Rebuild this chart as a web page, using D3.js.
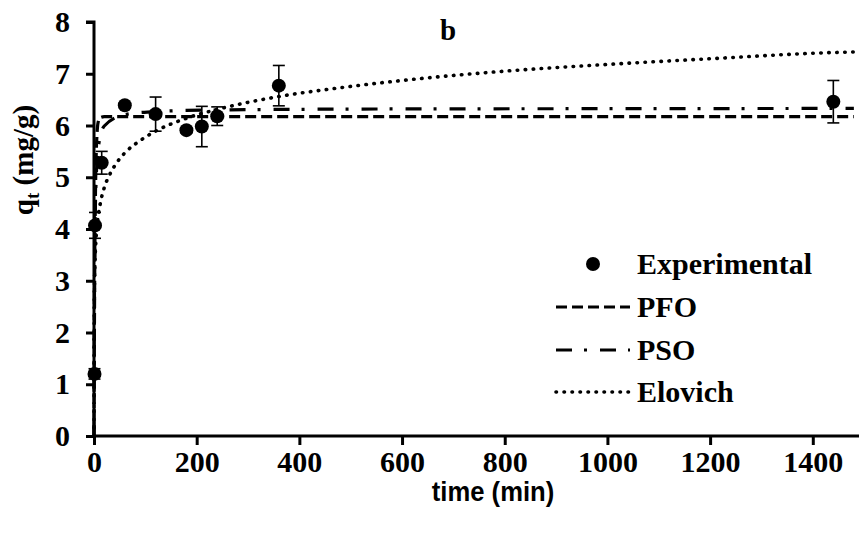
<!DOCTYPE html>
<html>
<head>
<meta charset="utf-8">
<script src="https://cdn.jsdelivr.net/npm/d3@7"></script>
<style>
  body { margin: 0; background: #fff; }
  svg text { font-family: "Liberation Serif", "Times New Roman", serif; font-weight: bold; fill: #000; }
  .xtitle { font-family: "Liberation Sans Narrow", "Arial Narrow", "Liberation Sans", Arial, sans-serif; }
</style>
</head>
<body>
<svg id="chart" width="859" height="540"></svg>
<script>
// experimental points (time in min, q in mg/g, error bar half-height)
const expTime = [1, 2, 15, 60, 120, 180, 210, 240, 360, 1440];
const expQ = [1.2, 4.07, 5.28, 6.39, 6.22, 5.91, 5.98, 6.18, 6.77, 6.46];
const expErr = [0.1, 0.25, 0.22, 0.05, 0.33, 0.05, 0.39, 0.18, 0.39, 0.41];

// fitted curves, values
const pfoTime = [0, 0.5, 1, 2, 3, 4, 6, 8, 12, 20, 60, 200, 600, 1000, 1480];
const pfoQ = [0, 1.34, 2.43, 4.0, 4.8, 5.33, 5.86, 6.06, 6.15, 6.17, 6.17, 6.17, 6.17, 6.17, 6.17];

const psoTime = [0, 0.5, 1, 2, 5, 10, 20, 60, 120, 240, 600, 1000, 1480];
const psoQ = [0, 1.93, 2.95, 4.02, 5.15, 5.68, 5.99, 6.21, 6.27, 6.30, 6.32, 6.325, 6.33];

const eloTime = [0, 0.5, 1, 2, 4, 7, 12, 20, 30, 45, 60, 90, 120, 180, 240, 360, 480, 600, 800, 1000, 1200, 1440, 1480];
const eloQ = [0, 2.55, 2.97, 3.39, 3.82, 4.16, 4.48, 4.80, 5.04, 5.29, 5.47, 5.71, 5.89, 6.14, 6.31, 6.56, 6.73, 6.87, 7.05, 7.18, 7.29, 7.41, 7.42];

const xTicks = [0, 200, 400, 600, 800, 1000, 1200, 1400];
const yTicks = [0, 1, 2, 3, 4, 5, 6, 7, 8];

const legendItems = ["Experimental", "PFO", "PSO", "Elovich"];

const svg = d3.select("#chart");

const x = d3.scaleLinear().domain([0, 1490]).range([94, 859]);
const y = d3.scaleLinear().domain([0, 8]).range([436, 22]);

// dash styles
const styles = {
    PFO: { dash: "11,5", width: 3.2 },
    PSO: { dash: "16,12,3,13", width: 3.2 },
    Elovich: { dash: "0.5,7.5", width: 3.6, cap: "round" }
};

// axes
const xAxis = svg.append("g").attr("transform", `translate(0,${y(0)})`)
    .call(d3.axisBottom(x).tickValues(xTicks).tickSize(9).tickPadding(6).tickFormat(d3.format("d")));
const yAxis = svg.append("g").attr("transform", `translate(${x(0)},0)`)
    .call(d3.axisLeft(y).tickValues(yTicks).tickSize(8).tickPadding(16).tickFormat(d3.format("d")));

[xAxis, yAxis].forEach(a => {
    a.attr("font-size", null);
    a.select(".domain").attr("stroke", "#000").attr("stroke-width", 3);
    a.selectAll(".tick line").attr("stroke", "#000").attr("stroke-width", 3);
    a.selectAll(".tick text").style("font-size", "30px").style("font-family", "'Liberation Serif', serif").style("font-weight", "bold");
});
xAxis.select(".domain").attr("d", `M${x(0)},0H859`);
yAxis.select(".domain").attr("d", `M-8,${y(8)}H0V${y(0)}`);

// curves
const line = d3.line().x(d => x(d[0])).y(d => y(d[1])).curve(d3.curveMonotoneX);

function drawCurve(times, qs, st) {
    svg.append("path")
        .datum(d3.zip(times, qs))
        .attr("d", line)
        .attr("fill", "none")
        .attr("stroke", "#000")
        .attr("stroke-width", st.width)
        .attr("stroke-dasharray", st.dash)
        .attr("stroke-linecap", st.cap || "butt");
}
drawCurve(pfoTime, pfoQ, styles.PFO);
drawCurve(psoTime, psoQ, styles.PSO);
drawCurve(eloTime, eloQ, styles.Elovich);

// error bars
const eb = svg.append("g").attr("stroke", "#000").attr("stroke-width", 1.6);
expTime.forEach((t, i) => {
    const cx = x(t), top = y(expQ[i] + expErr[i]), bot = y(expQ[i] - expErr[i]);
    eb.append("line").attr("x1", cx).attr("x2", cx).attr("y1", top).attr("y2", bot);
    eb.append("line").attr("x1", cx - 6).attr("x2", cx + 6).attr("y1", top).attr("y2", top);
    eb.append("line").attr("x1", cx - 6).attr("x2", cx + 6).attr("y1", bot).attr("y2", bot);
});

// points
svg.append("g").selectAll("circle")
    .data(d3.zip(expTime, expQ))
    .join("circle")
    .attr("cx", d => x(d[0]))
    .attr("cy", d => y(d[1]))
    .attr("r", 7)
    .attr("fill", "#000");

// title
svg.append("text").attr("x", 448).attr("y", 40).attr("text-anchor", "middle")
    .style("font-size", "29px").text("b");

// axis titles
svg.append("text").attr("class", "xtitle")
    .attr("transform", "translate(493,501) scale(0.95,1)")
    .attr("text-anchor", "middle").style("font-size", "27px").text("time (min)");

const yt = svg.append("text").attr("transform", "translate(33,160) rotate(-90)")
    .attr("text-anchor", "middle").style("font-size", "29px");
yt.append("tspan").text("q");
yt.append("tspan").style("font-size", "19px").attr("dy", 6).text("t");
yt.append("tspan").attr("dy", -6).text(" (mg/g)");

// legend
const legY = [264, 307, 350, 392];
const lg = svg.append("g");
legendItems.forEach((name, i) => {
    if (name === "Experimental") {
        lg.append("circle").attr("cx", 593).attr("cy", legY[i]).attr("r", 7).attr("fill", "#000");
    } else {
        const st = styles[name];
        lg.append("line").attr("x1", 556).attr("x2", 630).attr("y1", legY[i]).attr("y2", legY[i])
            .attr("stroke", "#000").attr("stroke-width", st.width)
            .attr("stroke-dasharray", st.dash).attr("stroke-linecap", st.cap || "butt");
    }
    lg.append("text").attr("x", 637).attr("y", legY[i] + 10).style("font-size", "30px").text(name);
});
</script>
</body>
</html>
